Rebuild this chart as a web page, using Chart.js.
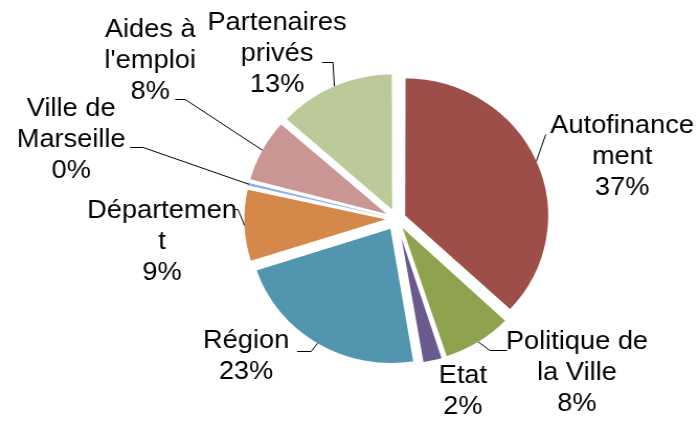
<!DOCTYPE html>
<html>
<head>
<meta charset="utf-8">
<script src="https://cdn.jsdelivr.net/npm/chart.js@4"></script>
<style>
  html, body { margin: 0; padding: 0; background: #fff; }
  #pie-chart { display: block; }
</style>
</head>
<body>
<!-- le graphique d'origine est légèrement étiré en largeur : canvas 668 affiché sur 699 -->
<canvas id="pie-chart" width="668" height="421" style="width:699px;height:421px"></canvas>
<script>
var categories = ['Autofinancement', 'Politique de la Ville', 'Etat', 'Région', 'Département', 'Ville de Marseille', "Aides à l'emploi", 'Partenaires privés'];
// libellés coupés comme dans le graphique Excel
var labelLines = [['Autofinance', 'ment'], ['Politique de', 'la Ville'], ['Etat'], ['Région'], ['Départemen', 't'], ['Ville de', 'Marseille'], ['Aides à', "l'emploi"], ['Partenaires', 'privés']];
var shares = [37.0, 8.0, 2.4, 22.6, 8.6, 0.48, 7.52, 13.4];
var colors = ['#9d4e49', '#8fa24d', '#6a5a8e', '#5196ae', '#d4884a', '#8db0dc', '#ca9694', '#bcc998'];

var total = shares.reduce(function (a, b) { return a + b; }, 0);
var EXPLODE = 10; // px

var outsideLabels = {
  id: 'outsideLabels',
  afterDatasetsDraw: function (chart, args, opts) {
    var c = chart.ctx;
    var meta = chart.getDatasetMeta(0);
    c.save();
    c.font = opts.size + 'px ' + opts.family;
    c.fillStyle = opts.color;
    c.strokeStyle = opts.lineColor;
    c.lineWidth = 1;
    c.textAlign = 'center';
    c.textBaseline = 'alphabetic';
    meta.data.forEach(function (arc, i) {
      var p = arc.getProps(['x', 'y', 'startAngle', 'endAngle', 'outerRadius'], true);
      var mid = (p.startAngle + p.endAngle) / 2;
      var r = p.outerRadius + opts.reach;
      var ax = p.x + Math.cos(mid) * r;
      var ay = p.y + Math.sin(mid) * r;
      var pl = opts.place[i];
      if (pl.elbow) {
        var ey = Math.round(ay + pl.elbow[1]) + 0.5;
        c.beginPath();
        c.moveTo(ax, ay);
        c.lineTo(ax + pl.elbow[0], ey);
        c.lineTo(ax + pl.end, ey);
        c.stroke();
      }
      var lines = labelLines[i].concat([Math.round(shares[i] / total * 100) + '%']);
      lines.forEach(function (t, k) {
        c.fillText(t, ax + pl.dx, ay + pl.dy + k * opts.lineHeight);
      });
    });
    c.restore();
  }
};

var ctx = document.getElementById('pie-chart').getContext('2d');
var pieChart = new Chart(ctx, {
  type: 'pie',
  data: {
    labels: categories,
    datasets: [{
      data: shares,
      backgroundColor: colors,
      borderColor: '#ffffff',
      borderWidth: function (c) { return c.raw < 1 ? 0 : 2; },
      // Chart.js agrandit aussi le rayon des parts décalées : on compense
      offset: function (c) {
        var circ = c.raw / total * 2 * Math.PI;
        var fix = 1 - Math.sin(Math.min(Math.PI, circ));
        return 4 * EXPLODE / (1 + fix);
      }
    }]
  },
  plugins: [outsideLabels],
  options: {
    responsive: false,
    devicePixelRatio: 1,
    animation: false,
    events: [],
    radius: 136.5,
    layout: { padding: { left: 90, right: 0, top: 17, bottom: 0 } },
    plugins: {
      legend: { display: false },
      tooltip: { enabled: false },
      outsideLabels: {
        family: '"Liberation Sans", Arial, sans-serif',
        size: 26,
        lineHeight: 31,
        color: '#000000',
        lineColor: '#000000',
        reach: 9,
        place: [
          { dx: 82, dy: -28, elbow: [9, -27], end: 9 },
          { dx: 94.4, dy: 7.2, elbow: [11.3, 8], end: 27.5 },
          { dx: 29, dy: 22.8 },
          { dx: -68.2, dy: 5.2, elbow: [-6, 8], end: -19.4 },
          { dx: -78.8, dy: -7.4, elbow: [-6.2, -16.4], end: -10.9 },
          { dx: -169.7, dy: -68.6, elbow: [-100.9, -37.6], end: -113.4 },
          { dx: -107.3, dy: -113.5, elbow: [-73.8, -51.5], end: -83.4 },
          { dx: -54.8, dy: -56.2, elbow: [-1.3, -24.2], end: -11.8 }
        ]
      }
    }
  }
});
</script>
</body>
</html>
